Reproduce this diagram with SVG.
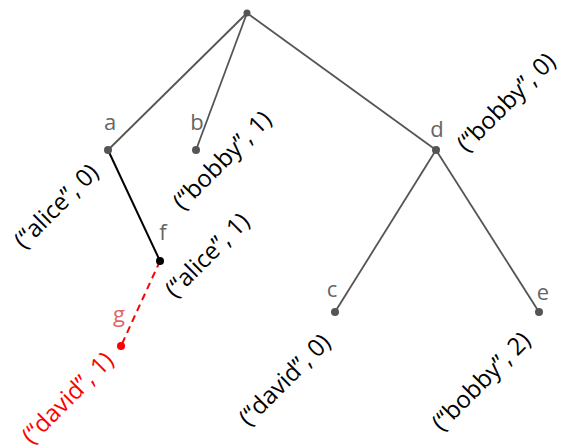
<svg xmlns="http://www.w3.org/2000/svg" width="567" height="448" viewBox="0 0 567 448">
<style>
.e{stroke:#555;stroke-width:1.8;fill:none}
.dot{fill:#555}
.nl{font-family:"Open Sans",sans-serif;font-size:22px;fill:#666;text-anchor:middle}
.lb{font-family:"Open Sans",sans-serif;font-size:24px;fill:#000;text-anchor:end}
</style>
<rect width="567" height="448" fill="#fff"/>
<g id="connectors">
<line class="e" x1="247" y1="13" x2="108" y2="150"/>
<line class="e" x1="247" y1="13" x2="196" y2="150"/>
<line class="e" x1="247" y1="13" x2="436" y2="150"/>
<line class="e" x1="436" y1="150" x2="335" y2="312"/>
<line class="e" x1="436" y1="150" x2="539" y2="312"/>
<line x1="108" y1="150" x2="160" y2="261" stroke="#000" stroke-width="2"/>
<line x1="160" y1="261" x2="121" y2="346" stroke="#f00" stroke-width="2" stroke-dasharray="7,5"/>
</g>
<g id="root"><circle class="dot" cx="247" cy="13" r="3.5"/></g>
<g id="a"><circle class="dot" cx="108" cy="150" r="4"/><text class="nl" x="110" y="130">a</text><text class="lb" transform="translate(100,174) rotate(-45)">(“alice”, 0)</text></g>
<g id="b"><circle class="dot" cx="196" cy="150" r="4"/><text class="nl" x="197" y="130">b</text><text class="lb" transform="translate(273,121) rotate(-45)">(“bobby”, 1)</text></g>
<g id="d"><circle class="dot" cx="436" cy="150" r="4"/><text class="nl" x="437" y="137">d</text><text class="lb" transform="translate(557,63) rotate(-45)">(“bobby”, 0)</text></g>
<g id="f"><circle cx="160" cy="261" r="4" fill="#000"/><text class="nl" x="163" y="240">f</text><text class="lb" transform="translate(251,223) rotate(-45)">(“alice”, 1)</text></g>
<g id="g"><circle cx="121" cy="346" r="4" fill="#f00"/><text class="nl" x="119" y="322" style="fill:#e06666">g</text><text class="lb" transform="translate(115,362) rotate(-45)" style="fill:#f00">(“david”, 1)</text></g>
<g id="c"><circle class="dot" cx="335" cy="312" r="4"/><text class="nl" x="332" y="297">c</text><text class="lb" transform="translate(332,344) rotate(-45)">(“david”, 0)</text></g>
<g id="e"><circle class="dot" cx="539" cy="312" r="4"/><text class="nl" x="543" y="300">e</text><text class="lb" transform="translate(532,342) rotate(-45)">(“bobby”, 2)</text></g>
</svg>
